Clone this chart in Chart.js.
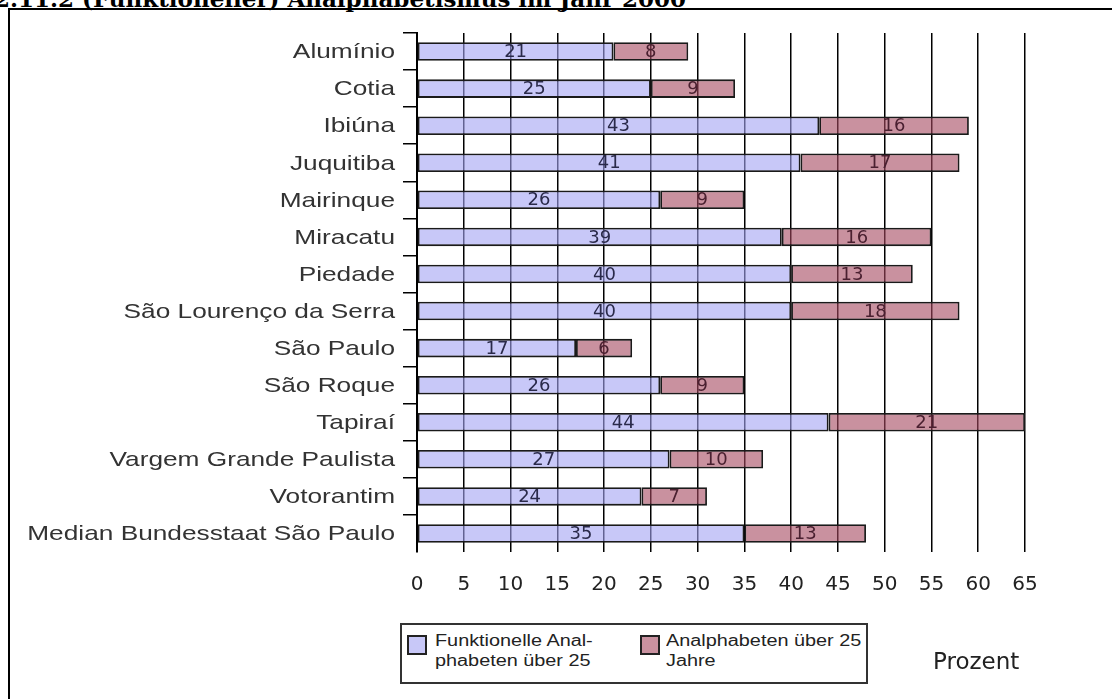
<!DOCTYPE html>
<html lang="de">
<head>
<meta charset="utf-8">
<title>(Funktioneller) Analphabetismus im Jahr 2000</title>
<script src="https://cdn.jsdelivr.net/npm/chart.js@4.4.1/dist/chart.umd.min.js"></script>
<style>
  html, body { margin: 0; padding: 0; background: #fff; overflow: hidden; }
  #page { position: relative; width: 1112px; height: 699px; overflow: hidden; }
  #heading {
    position: absolute; left: -6px; top: -15px; white-space: nowrap;
    font: bold 23px "DejaVu Serif", "Liberation Serif", serif; color: #000;
  }
  #frame {
    position: absolute; left: 8px; top: 8px; width: 1200px; height: 800px;
    border: 2px solid #000; box-sizing: border-box;
  }
  #wrap { position: absolute; left: 0; top: 0; width: 1112px; height: 699px; }
  #legend {
    position: absolute; left: 400px; top: 623px; width: 468px; height: 61px;
    border: 2px solid #333; box-sizing: border-box; background: #fff;
    font: 16px "Liberation Sans", Arial, sans-serif; color: #222; line-height: 20px;
  }
  .swatch { position: absolute; width: 20px; height: 20px; border: 2px solid #222; box-sizing: border-box; }
  .txt { position: absolute; white-space: nowrap; transform: scaleX(1.24); transform-origin: 0 0; }
  #unit { position: absolute; left: 933px; top: 648px; font: 23px "DejaVu Sans", sans-serif; color: #222; }
</style>
</head>
<body>
<div id="page">
  <div id="heading">2.11.2 (Funktioneller) Analphabetismus im Jahr 2000</div>
  <div id="frame"></div>
  <div id="wrap"><canvas id="chart" width="1112" height="699"></canvas></div>
  <div id="legend"></div>
  <div id="unit">Prozent</div>
</div>
<script>
// Municipalities of the region, plus the state median
const municipalities = [
  'Alumínio', 'Cotia', 'Ibiúna', 'Juquitiba', 'Mairinque', 'Miracatu', 'Piedade',
  'São Lourenço da Serra', 'São Paulo', 'São Roque', 'Tapiraí',
  'Vargem Grande Paulista', 'Votorantim', 'Median Bundesstaat São Paulo'
];
// Functional illiterates aged over 25, percent
const functionalIlliterates = [21, 25, 43, 41, 26, 39, 40, 40, 17, 26, 44, 27, 24, 35];
// Illiterates aged over 25, percent
const illiterates = [8, 9, 16, 17, 9, 16, 13, 18, 6, 9, 21, 10, 7, 13];
// Legend captions, split into the lines they are printed on
const legendLines = [
  ['Funktionelle Anal-', 'phabeten über 25'],
  ['Analphabeten über 25', 'Jahre']
];
const axisMax = 65;
const axisStep = 5;

const fills = ['rgba(163,163,243,0.6)', 'rgba(165,72,95,0.6)'];
const swatchColors = ['#c8c8f8', '#c9919f'];
const valueColors = ['#2a2a4a', '#4a2030'];

// Writes each segment's value in the middle of its bar
const segmentValues = {
  id: 'segmentValues',
  afterDatasetsDraw(chart) {
    const ctx = chart.ctx;
    ctx.save();
    ctx.font = '18px "DejaVu Sans", sans-serif';
    ctx.textAlign = 'center';
    ctx.textBaseline = 'middle';
    chart.data.datasets.forEach((ds, di) => {
      const meta = chart.getDatasetMeta(di);
      ctx.fillStyle = valueColors[di];
      meta.data.forEach((bar, i) => {
        const cx = (bar.x + bar.base) / 2;
        ctx.fillText(String(ds.data[i]), cx, bar.y + 1);
      });
    });
    ctx.restore();
  }
};

// Category names, set in a slightly widened face to the left of the tick marks
const categoryNames = {
  id: 'categoryNames',
  afterDraw(chart) {
    const ctx = chart.ctx;
    const y = chart.scales.y;
    ctx.save();
    ctx.font = '21px "Liberation Sans", Arial, sans-serif';
    ctx.fillStyle = '#333';
    ctx.textAlign = 'right';
    ctx.textBaseline = 'middle';
    chart.data.labels.forEach((name, i) => {
      ctx.save();
      ctx.translate(y.right - 22, y.getPixelForTick(i) + 1);
      ctx.scale(1.25, 1);
      ctx.fillText(name, 0, 0);
      ctx.restore();
    });
    ctx.restore();
  }
};

const chart = new Chart(document.getElementById('chart'), {
  type: 'bar',
  data: {
    labels: municipalities,
    datasets: [
      { label: legendLines[0].join(' '), data: functionalIlliterates },
      { label: legendLines[1].join(' '), data: illiterates }
    ].map((ds, i) => Object.assign(ds, {
      backgroundColor: fills[i],
      borderColor: '#1a1a1a',
      borderWidth: 1.8,
      borderSkipped: false,
      barPercentage: 0.5,
      categoryPercentage: 1
    }))
  },
  options: {
    indexAxis: 'y',
    responsive: false,
    animation: false,
    layout: { padding: { top: 33, right: 87, left: 0, bottom: 0 } },
    plugins: { legend: { display: false }, tooltip: { enabled: false } },
    scales: {
      x: {
        stacked: true,
        min: 0,
        max: axisMax,
        afterFit(scale) { scale.height = 147; },
        ticks: {
          stepSize: axisStep,
          padding: 21,
          color: '#222',
          font: { family: '"DejaVu Sans", sans-serif', size: 20 }
        },
        grid: { color: '#000', lineWidth: 1.5, drawTicks: false },
        border: { display: false }
      },
      y: {
        stacked: true,
        afterFit(scale) { scale.width = 417; },
        ticks: { display: false },
        grid: {
          drawOnChartArea: false,
          tickLength: 14,
          lineWidth: 1.5,
          offset: true,
          // marks at the top edge of every band, none below the last one
          color: (c) => (c.type === 'tick' ? '#000' : 'rgba(0,0,0,0)')
        },
        border: { display: true, color: '#000', width: 2 }
      }
    }
  },
  plugins: [segmentValues, categoryNames]
});

// Legend built from the chart's own datasets
const legend = document.getElementById('legend');
const swatchLeft = [5, 238];
const textLeft = [33, 264];
chart.data.datasets.forEach((ds, i) => {
  const sw = document.createElement('div');
  sw.className = 'swatch';
  sw.style.left = swatchLeft[i] + 'px';
  sw.style.top = '10px';
  sw.style.background = swatchColors[i];
  const tx = document.createElement('div');
  tx.className = 'txt';
  tx.style.left = textLeft[i] + 'px';
  tx.style.top = '6px';
  tx.title = ds.label;
  legendLines[i].forEach((line, k) => {
    if (k) tx.appendChild(document.createElement('br'));
    tx.appendChild(document.createTextNode(line));
  });
  legend.appendChild(sw);
  legend.appendChild(tx);
});
</script>
</body>
</html>
